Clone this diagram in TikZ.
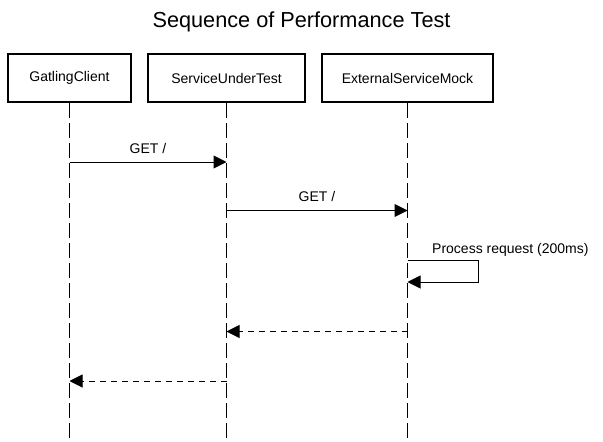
\documentclass[tikz,border=0pt]{standalone}
\usepackage{fontspec}
\setmainfont{Liberation Sans}
\usetikzlibrary{arrows.meta}
\begin{document}
\begin{tikzpicture}[x=1pt,y=-1pt,
  actor/.style={draw, line width=2pt, fill=white, minimum height=48pt, inner sep=0pt, font=\fontsize{14}{17}\selectfont},
  lifeline/.style={line width=1pt, dash pattern=on 15pt off 5pt},
  msg/.style={line width=1pt, -{Triangle[length=13pt,width=13pt]}},
  ret/.style={msg, dash pattern=on 6pt off 5pt},
  lbl/.style={anchor=base, inner sep=0pt, font=\fontsize{14}{17}\selectfont},
]
\useasboundingbox (0,0) rectangle (603,442);
\fill[white] (0,0) rectangle (603,442);

\node[anchor=base, inner sep=0pt, font=\fontsize{21.7}{26}\selectfont] (title) at (301.5,27) {Sequence of Performance Test};

\node[actor, minimum width=123pt] (gc) at (69.5,78) {GatlingClient};
\node[actor, minimum width=157pt] (sut) at (226.5,78) {ServiceUnderTest};
\node[actor, minimum width=171pt] (esm) at (407.5,78) {ExternalServiceMock};

\coordinate (gcend) at (69.5,442);
\coordinate (sutend) at (226.5,442);
\coordinate (esmend) at (407.5,442);
\draw[lifeline] (gc.south) -- (gcend);
\draw[lifeline] (sut.south) -- (sutend);
\draw[lifeline] (esm.south) -- (esmend);

% message 1
\coordinate (m1a) at (69.5,162);
\coordinate (m1b) at (226.5,162);
\draw[msg] (m1a) -- (m1b);
\node[lbl] (l1) at (148,153) {GET /};

% message 2
\coordinate (m2a) at (226.5,210.5);
\coordinate (m2b) at (407.5,210.5);
\draw[msg] (m2a) -- (m2b);
\node[lbl] (l2) at (317,201) {GET /};

% self message
\coordinate (s1) at (407.5,260);
\coordinate (s2) at (478,260);
\coordinate (s3) at (478,282);
\coordinate (s4) at (407.5,282);
\draw[msg] (s1) -- (s2) -- (s3) -- (s4);
\node[lbl, anchor=base west] (l3) at (432,253) {Process request (200ms)};

% returns
\coordinate (r1a) at (407.5,331.5);
\coordinate (r1b) at (226.5,331.5);
\draw[ret] (r1a) -- (r1b);
\coordinate (r2a) at (226.5,381);
\coordinate (r2b) at (69.5,381);
\draw[ret] (r2a) -- (r2b);
\end{tikzpicture}
\end{document}
